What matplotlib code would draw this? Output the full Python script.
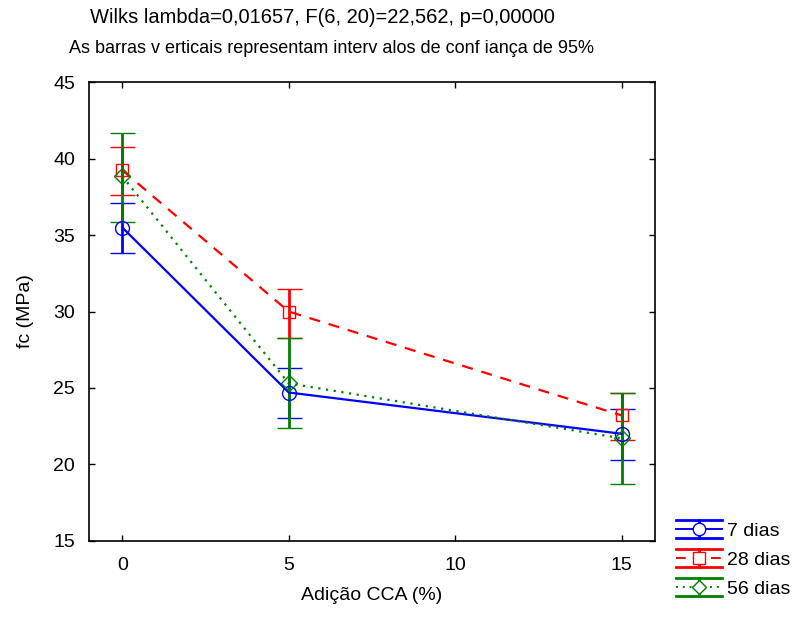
import matplotlib
matplotlib.use("Agg")
import matplotlib.pyplot as plt
from matplotlib.legend_handler import HandlerBase
from matplotlib.lines import Line2D

plt.rcParams['font.family'] = ['Liberation Sans', 'DejaVu Sans']

# data
cca = [0, 5, 15]
series_names = ['7 dias', '28 dias', '56 dias']
fc_7 = [35.5, 24.7, 22.0]
lo_7 = [33.8, 23.0, 20.3]
hi_7 = [37.1, 26.3, 23.6]
fc_28 = [39.25, 30.0, 23.2]
lo_28 = [37.6, 28.3, 21.6]
hi_28 = [40.8, 31.5, 24.7]
fc_56 = [38.85, 25.3, 21.7]
lo_56 = [35.85, 22.4, 18.7]
hi_56 = [41.7, 28.3, 24.7]

styles = [
    dict(color='#0000ff', ls='-', marker='o'),
    dict(color='#ff0000', ls=(0, (5, 4)), marker='s'),
    dict(color='#008000', ls=(0, (1, 2.5)), marker='D'),
]
msizes = [10, 9, 8]


class HandlerErr(HandlerBase):
    # legend glyph: line with marker, vertical bar and wide caps
    def create_artists(self, legend, orig_handle, xdescent, ydescent,
                       width, height, fontsize, trans):
        st = orig_handle
        c = st['color']
        ym = height / 2 - ydescent
        xm = width / 2 - xdescent
        top = ym + height * 0.65
        bot = ym - height * 0.65
        arts = [
            Line2D([-xdescent, width - xdescent], [ym, ym], color=c,
                   ls=st['ls'], lw=1.4),
            Line2D([xm, xm], [bot, top], color=c, lw=2),
            Line2D([-xdescent, width - xdescent], [top, top], color=c, lw=2),
            Line2D([-xdescent, width - xdescent], [bot, bot], color=c, lw=2),
            Line2D([xm], [ym], marker=st['marker'], ms=st['ms'] - 1, mfc='white',
                   mec=c, mew=1.0, ls='none'),
        ]
        for a in arts:
            a.set_transform(trans)
        return arts


fig = plt.figure(figsize=(7.96, 6.24), dpi=100)
ax = fig.add_axes([0.1118, 0.1335, 0.711, 0.7345])

handles = []
for (fc, lo, hi), st, ms in zip([(fc_7, lo_7, hi_7), (fc_28, lo_28, hi_28),
                                  (fc_56, lo_56, hi_56)], styles, msizes):
    yerr = [[f - l for f, l in zip(fc, lo)], [h - f for f, h in zip(fc, hi)]]
    ax.errorbar(cca, fc, yerr=yerr, color=st['color'], ls=st['ls'], lw=1.6,
                marker=st['marker'], ms=ms, mfc='none', mec=st['color'],
                mew=1.0, elinewidth=2, capsize=9, capthick=2)
    handles.append(dict(st, ms=ms))

ax.set_xlim(-1, 16)
ax.set_ylim(15, 45)
ax.set_xticks([0, 5, 10, 15])
ax.set_yticks(range(15, 50, 5))
ax.tick_params(direction='in', length=4, width=1, labelsize=14,
               top=True, right=True)
ax.tick_params(axis='y', pad=10)
ax.tick_params(axis='x', pad=12)
for s in ax.spines.values():
    s.set_linewidth(1.2)

ax.set_xlabel('Adição CCA (%)', fontsize=14, labelpad=9)
ax.set_ylabel('fc (MPa)', fontsize=14, labelpad=14)

fig.text(0.405, 0.972, 'Wilks lambda=0,01657, F(6, 20)=22,562, p=0,00000',
         ha='center', va='center', fontsize=14.5)
fig.text(0.417, 0.923, 'As barras v erticais representam interv alos de conf iança de 95%',
         ha='center', va='center', fontsize=13)

fig.legend(handles, series_names, handler_map={dict: HandlerErr()},
           loc='upper left', bbox_to_anchor=(0.849, 0.163), frameon=False,
           fontsize=14, handlelength=2.4, handletextpad=0.25, labelspacing=0.58,
           borderpad=0, borderaxespad=0)

fig.savefig('out.png', dpi=100)
